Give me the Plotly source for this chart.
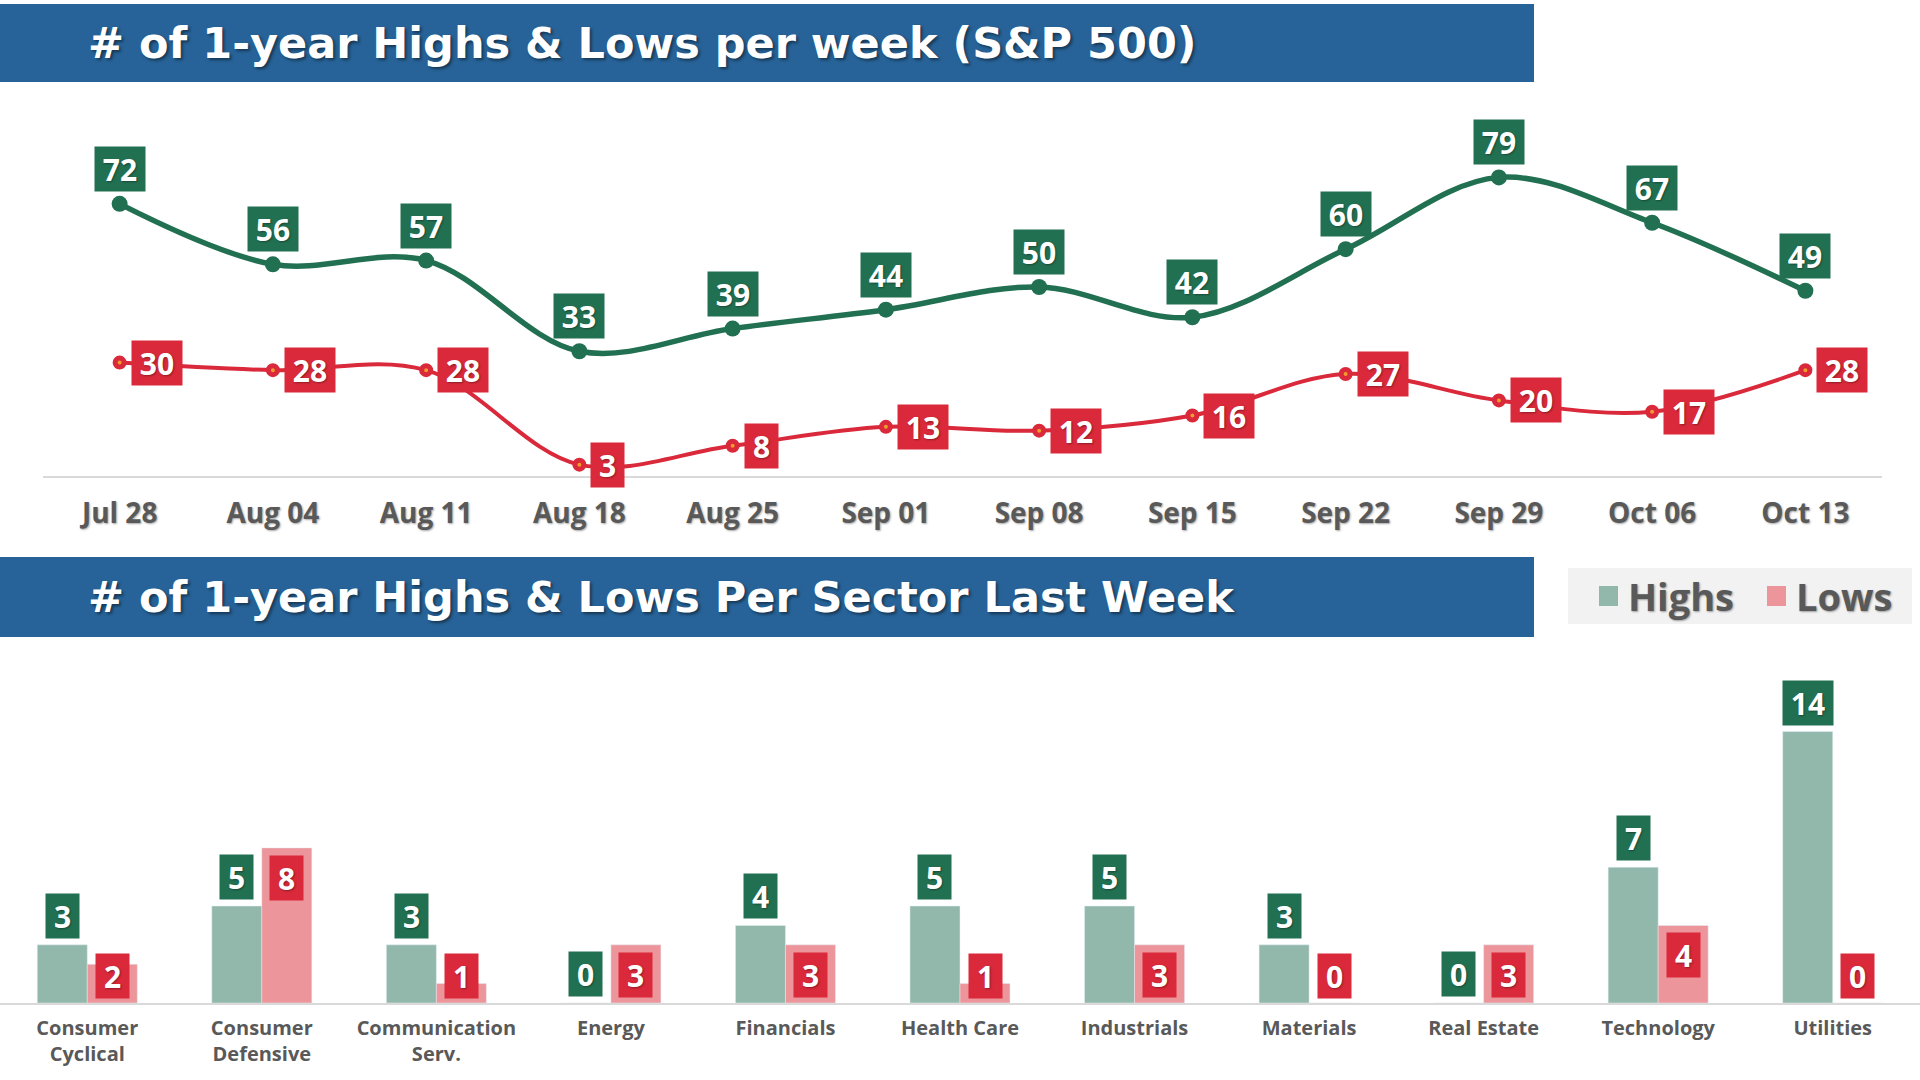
import plotly.graph_objects as go

# ---------------- data ----------------
weeks = ["Jul 28", "Aug 04", "Aug 11", "Aug 18", "Aug 25", "Sep 01",
         "Sep 08", "Sep 15", "Sep 22", "Sep 29", "Oct 06", "Oct 13"]
week_highs = [72, 56, 57, 33, 39, 44, 50, 42, 60, 79, 67, 49]
week_lows = [30, 28, 28, 3, 8, 13, 12, 16, 27, 20, 17, 28]

sectors = ["Consumer<br>Cyclical", "Consumer<br>Defensive", "Communication<br>Serv.",
           "Energy", "Financials", "Health Care", "Industrials", "Materials",
           "Real Estate", "Technology", "Utilities"]
sector_highs = [3, 5, 3, 0, 4, 5, 5, 3, 0, 7, 14]
sector_lows = [2, 8, 1, 3, 3, 1, 3, 0, 3, 4, 0]

title_top = "# of 1-year Highs & Lows per week (S&P 500)"
title_bottom = "# of 1-year Highs & Lows Per Sector Last Week"

# ---------------- styles ----------------
W, H = 1920, 1080
BLUE = "#276398"
DKGREEN = "#227052"
RED = "#D9293A"
LTGREEN = "#91B8AA"
PINK = "#EC959A"
GRAY = "#595959"
AXIS = "#D9D9D9"
FONT = "Open Sans"
TFONT = "DejaVu Sans"
SHADOW = "1px 1px 2px rgba(0,0,0,0.35)"


def py(p):
    return 1 - p / H


def px(p):
    return p / W


fig = go.Figure()

# line chart
fig.add_trace(go.Scatter(
    x=weeks, y=week_highs, mode="lines+markers",
    line=dict(color=DKGREEN, width=5.5, shape="spline", smoothing=1),
    marker=dict(color=DKGREEN, size=16),
    xaxis="x", yaxis="y", hoverinfo="skip", showlegend=False))
fig.add_trace(go.Scatter(
    x=weeks, y=week_lows, mode="lines+markers",
    line=dict(color=RED, width=4, shape="spline", smoothing=1),
    marker=dict(color="#F39A2E", size=9, line=dict(color=RED, width=5)),
    xaxis="x", yaxis="y", hoverinfo="skip", showlegend=False))

# bar chart
BARGAP = 0.427
fig.add_trace(go.Bar(x=sectors, y=sector_highs, marker_color=LTGREEN,
                     xaxis="x2", yaxis="y2", hoverinfo="skip", showlegend=False))
fig.add_trace(go.Bar(x=sectors, y=sector_lows, marker_color=PINK,
                     xaxis="x2", yaxis="y2", hoverinfo="skip", showlegend=False))

annotations = []


def box_width(v):
    return 17 * len(str(v)) + 16


label_font = dict(family=FONT, size=30, color="white", weight=700, shadow=SHADOW)

for w, v in zip(weeks, week_highs):
    annotations.append(dict(
        x=w, y=v, xref="x", yref="y", text=str(v), showarrow=False,
        xanchor="center", yanchor="bottom", yshift=12,
        bgcolor=DKGREEN, width=box_width(v), height=44, borderpad=0,
        font=label_font))
for w, v in zip(weeks, week_lows):
    annotations.append(dict(
        x=w, y=v, xref="x", yref="y", text=str(v), showarrow=False,
        xanchor="left", yanchor="middle", xshift=11,
        bgcolor=RED, width=box_width(v), height=44, borderpad=0,
        font=label_font))

# bar label offsets (half a bar width, in pixels)
cat_w = W / len(sectors)
half_bar = cat_w * (1 - BARGAP) / 4
Y2MAX = 18
y2_top_px, y2_base_px = 654, 1003
unit_px = (y2_base_px - y2_top_px) / Y2MAX
min_low_label = 57 / unit_px

for s, v in zip(sectors, sector_highs):
    annotations.append(dict(
        x=s, y=v, xref="x2", yref="y2", text=str(v), showarrow=False,
        xanchor="center", yanchor="bottom", yshift=6, xshift=-half_bar,
        bgcolor=DKGREEN, width=box_width(v), height=44, borderpad=0,
        font=label_font))
for s, v in zip(sectors, sector_lows):
    annotations.append(dict(
        x=s, y=max(v, min_low_label), xref="x2", yref="y2", text=str(v), showarrow=False,
        xanchor="center", yanchor="top", yshift=-7, xshift=half_bar,
        bgcolor=RED, width=box_width(v), height=44, borderpad=0,
        font=label_font))

# titles
title_font = dict(family=TFONT, size=43, color="white", weight=700,
                  shadow="2px 2px 3px rgba(0,0,0,0.45)")
annotations.append(dict(x=px(86), y=py(43), xref="paper", yref="paper", text=title_top,
                        showarrow=False, xanchor="left", yanchor="middle", font=title_font))
annotations.append(dict(x=px(86), y=py(597), xref="paper", yref="paper", text=title_bottom,
                        showarrow=False, xanchor="left", yanchor="middle", font=title_font))

# custom legend
leg_font = dict(family=FONT, size=38, color=GRAY, weight=700, shadow=SHADOW)
annotations.append(dict(x=px(1626), y=py(596), xref="paper", yref="paper", text="Highs",
                        showarrow=False, xanchor="left", yanchor="middle", font=leg_font))
annotations.append(dict(x=px(1794), y=py(596), xref="paper", yref="paper", text="Lows",
                        showarrow=False, xanchor="left", yanchor="middle", font=leg_font))

shapes = [
    dict(type="rect", xref="paper", yref="paper", x0=0, x1=px(1534), y0=py(82), y1=py(4),
         fillcolor=BLUE, line=dict(width=0), layer="below"),
    dict(type="rect", xref="paper", yref="paper", x0=0, x1=px(1534), y0=py(637), y1=py(557),
         fillcolor=BLUE, line=dict(width=0), layer="below"),
    dict(type="rect", xref="paper", yref="paper", x0=px(1568), x1=px(1912), y0=py(624), y1=py(568),
         fillcolor="#F2F2F2", line=dict(width=0), layer="below"),
    dict(type="rect", xref="paper", yref="paper", x0=px(1599), x1=px(1618), y0=py(606), y1=py(586),
         fillcolor=LTGREEN, line=dict(width=0)),
    dict(type="rect", xref="paper", yref="paper", x0=px(1767), x1=px(1786), y0=py(606), y1=py(586),
         fillcolor=PINK, line=dict(width=0)),
]

fig.update_layout(
    width=W, height=H,
    margin=dict(l=0, r=0, t=0, b=0),
    paper_bgcolor="white", plot_bgcolor="white",
    barmode="group", bargap=BARGAP, bargroupgap=0,
    annotations=annotations, shapes=shapes,
    xaxis=dict(domain=[px(43), px(1882)], type="category", showgrid=False, zeroline=False,
               range=[-0.5, len(weeks) - 0.5],
               showline=True, linecolor=AXIS, linewidth=2, ticks="",
               ticklabelstandoff=11,
               tickfont=dict(family=FONT, size=28, color=GRAY, weight=700, shadow=SHADOW)),
    yaxis=dict(domain=[py(476), py(98)], range=[0, 100], visible=False),
    xaxis2=dict(domain=[0, 1], type="category", showgrid=False, zeroline=False,
                range=[-0.5, len(sectors) - 0.5],
                showline=True, linecolor=AXIS, linewidth=2, ticks="",
                ticklabelstandoff=6, anchor="y2",
                tickfont=dict(family=FONT, size=20, color=GRAY, weight=700)),
    yaxis2=dict(domain=[py(y2_base_px), py(y2_top_px)], range=[0, Y2MAX], visible=False,
                anchor="x2"),
)

fig.write_html("out.html", config={"displayModeBar": False},
               post_script="document.body.style.margin='0';")
